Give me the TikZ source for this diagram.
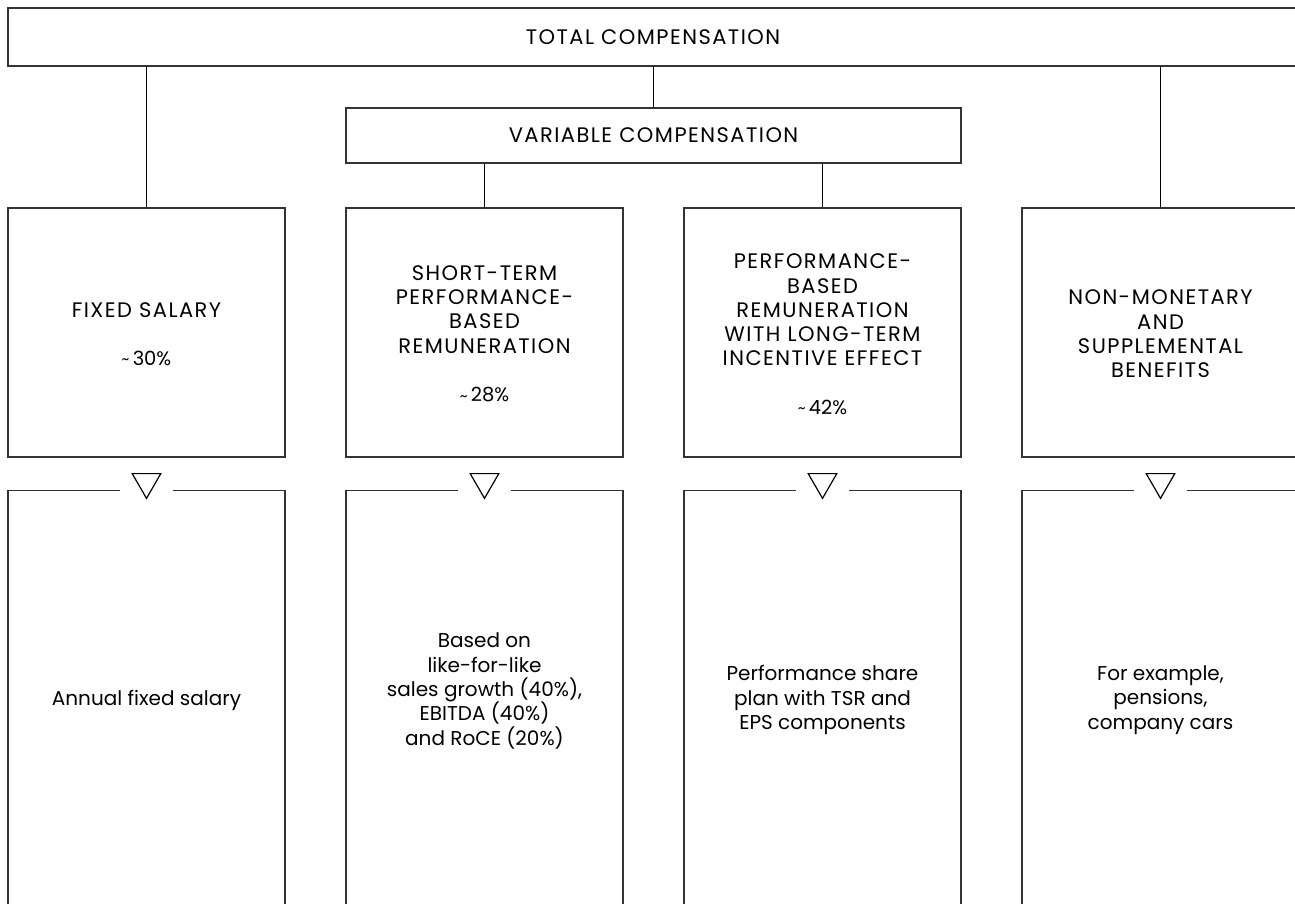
\documentclass[tikz,border=0pt]{standalone}
\usepackage{fontspec}
\setmainfont{Poppins}
\newfontfamily\capsfont{Poppins}[LetterSpace=7]
\usetikzlibrary{shapes.geometric}
\begin{document}
\begin{tikzpicture}[x=1pt,y=-1pt,
  frame/.style={draw=black!80, line width=1.3pt},
  link/.style={draw=black, line width=1.3pt},
  box/.style={frame, rectangle, inner sep=0pt, align=center},
  head/.style={font=\capsfont\fontsize{21}{24.3}\selectfont, align=center, inner sep=0pt},
  body/.style={font=\fontsize{20}{24.3}\selectfont, align=center, inner sep=0pt},
  pct/.style={font=\fontsize{19.5}{20}\selectfont, inner sep=0pt},
  marker/.style={draw=black, line width=1.2pt, regular polygon, regular polygon sides=3,
    shape border rotate=180, minimum size=33pt, inner sep=0pt}
]
\newcommand{\pctsign}[1]{{\fontsize{15}{15}\selectfont\raisebox{0.5pt}{\textasciitilde}}\,#1}
\useasboundingbox (0,0) rectangle (1295,903);
\clip (0,0) rectangle (1295,903);

% top and variable compensation boxes
\node[box, minimum width=1290pt, minimum height=58pt, font=\capsfont\fontsize{21}{20}\selectfont] (total) at (653,37) {TOTAL COMPENSATION};
\node[box, minimum width=615pt, minimum height=55pt, font=\capsfont\fontsize{21}{20}\selectfont] (var) at (653.5,135.5) {VARIABLE COMPENSATION};

% component boxes
\node[box, minimum width=277pt, minimum height=249pt] (fix) at (146.5,332.5) {};
\node[box, minimum width=277pt, minimum height=249pt] (sti) at (484.5,332.5) {};
\node[box, minimum width=277pt, minimum height=249pt] (lti) at (822.5,332.5) {};
\node[box, minimum width=277pt, minimum height=249pt] (ben) at (1160.5,332.5) {};

% connectors
\draw[link] (total.south -| fix.north) -- (fix.north);
\draw[link] (total.south -| var.north) -- (var.north);
\draw[link] (total.south -| ben.north) -- (ben.north);
\draw[link] (var.south -| sti.north) -- (sti.north);
\draw[link] (var.south -| lti.north) -- (lti.north);

% headings
\node[head] (fixh) at (146.5,310) {FIXED SALARY};
\node[pct] (fixp) at (146.5,358) {\pctsign{30\%}};
\node[head] (stih) at (484.5,309.5) {SHORT-TERM\\PERFORMANCE-\\BASED\\REMUNERATION};
\node[pct] (stip) at (484.5,395) {\pctsign{28\%}};
\node[head] (ltih) at (822.5,310) {PERFORMANCE-\\BASED\\REMUNERATION\\WITH LONG-TERM\\INCENTIVE EFFECT};
\node[pct] (ltip) at (822.5,407) {\pctsign{42\%}};
\node[head] (benh) at (1160.5,334) {NON-MONETARY\\AND\\SUPPLEMENTAL\\BENEFITS};

% arrow markers and lower frames
\foreach \n/\x in {a/146.5,b/484.5,c/822.5,d/1160.5}{
  \node[marker, anchor=north] (m\n) at (\x,473) {};
  \coordinate (tl\n) at (\x-138.5,490.5);
  \coordinate (tr\n) at (\x+138.5,490.5);
  \coordinate (gl\n) at (\x-27,490.5);
  \coordinate (gr\n) at (\x+26,490.5);
  \coordinate (bl\n) at (\x-138.5,920);
  \coordinate (br\n) at (\x+138.5,920);
  \draw[frame] (gl\n) -- (tl\n) -- (bl\n);
  \draw[frame] (gr\n) -- (tr\n) -- (br\n);
}

% descriptions
\node[body] (fixd) at (146.5,700) {Annual fixed salary};
\node[body] (stid) at (484.5,691) {Based on\\like-for-like\\sales growth (40\%),\\EBITDA (40\%)\\and RoCE (20\%)};
\node[body] (ltid) at (822.5,700) {Performance share\\plan with TSR and\\EPS components};
\node[body] (bend) at (1160.5,700) {For example,\\pensions,\\company cars};
\end{tikzpicture}
\end{document}
